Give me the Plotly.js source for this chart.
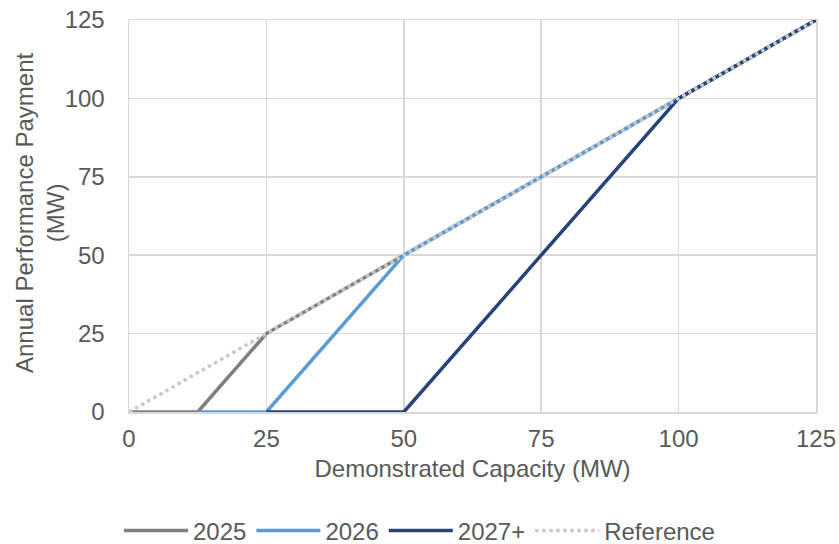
<!DOCTYPE html>
<html>
<head>
<meta charset="utf-8">
<script src="https://cdn.plot.ly/plotly-3.0.1.min.js"></script>
<style>html,body{margin:0;padding:0;background:#fff;}#chart{width:839px;height:544px;}</style>
</head>
<body>
<div id="chart"></div>
<script>
const capacity = [0, 12.5, 25, 50, 75, 100, 125];
const pay2025 = [0, 0, 25, 50, 75, 100, 125];
const pay2026 = [null, 0, 0, 50, 75, 100, 125];
const pay2027 = [null, null, 0, 0, 50, 100, 125];
const reference = [0, 12.5, 25, 50, 75, 100, 125];
const seriesNames = ["2025", "2026", "2027+", "Reference"];
const tickVals = [0, 25, 50, 75, 100, 125];
const yTitle = "Annual Performance Payment<br>(MW)";
const xTitle = "Demonstrated Capacity (MW)";

const font = {family: "Liberation Sans, Arial, sans-serif", size: 24, color: "#595959"};
const traces = [
  {x: capacity, y: pay2025, name: seriesNames[0], legendgroup: "a", mode: "lines", line: {color: "#7f7f7f", width: 3.5}},
  {x: capacity, y: pay2026, name: seriesNames[1], legendgroup: "b", mode: "lines", line: {color: "#5b9bd5", width: 3.5}},
  {x: capacity, y: pay2027, name: seriesNames[2], legendgroup: "c", mode: "lines", line: {color: "#264478", width: 3.5}},
  {x: capacity, y: reference, name: seriesNames[3], legendgroup: "d", mode: "lines", line: {color: "#c9c9c9", width: 3.5, dash: "dot"}}
];
const layout = {
  width: 839, height: 544,
  margin: {l: 129, r: 23, t: 20, b: 132, autoexpand: false},
  paper_bgcolor: "#fff", plot_bgcolor: "#fff",
  font: font,
  showlegend: true,
  legend: {orientation: "h", x: 0.5, xanchor: "center", xref: "container", y: 0.024, yanchor: "middle", yref: "container",
           font: font, itemwidth: 64, traceorder: "grouped"},
  annotations: [{
    text: yTitle, xref: "paper", yref: "paper", x: 0, y: 0.5, xanchor: "center", yanchor: "middle",
    xshift: -89, yshift: 3, textangle: -90, showarrow: false, font: font
  }],
  xaxis: {
    range: [0, 125], tickvals: tickVals, ticktext: tickVals.map(String),
    showgrid: true, gridcolor: "#d9d9d9", gridwidth: 1.5, zeroline: false,
    showline: true, linecolor: "#d9d9d9", linewidth: 1.5, mirror: true,
    ticks: "", ticklabelstandoff: 5, tickfont: font, automargin: false,
    title: {text: xTitle, font: font, standoff: 9}
  },
  yaxis: {
    range: [0, 125], tickvals: tickVals, ticktext: tickVals.map(String),
    showgrid: true, gridcolor: "#d9d9d9", gridwidth: 1.5, zeroline: false,
    showline: true, linecolor: "#d9d9d9", linewidth: 1.5, mirror: true,
    ticks: "", ticklabelstandoff: 18, tickfont: font, automargin: false
  }
};
Plotly.newPlot("chart", traces, layout, {displayModeBar: false, staticPlot: true});
</script>
</body>
</html>
